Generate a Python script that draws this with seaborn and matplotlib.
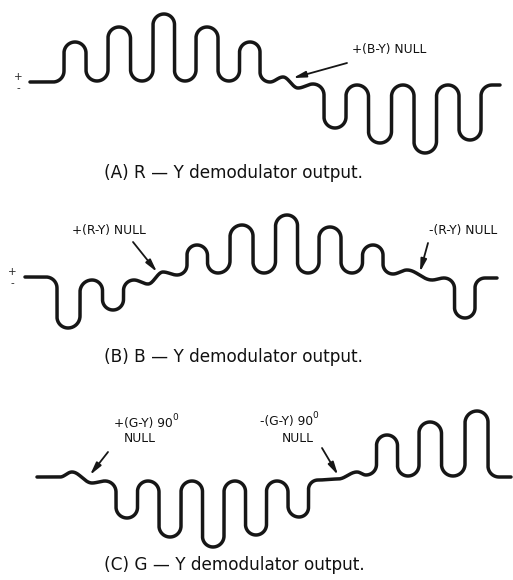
import numpy as np
import pandas as pd
import seaborn as sns
import matplotlib.pyplot as plt

# extremes of each trace (x position, level above baseline)
a_x = [30, 53, 75, 97, 119, 142, 164, 185, 207, 229, 250, 270, 283, 298, 313, 335, 357, 380, 403, 425, 448, 470, 492, 500]
a_v = [0, 0, 40, 1, 55, 1, 68, 1, 55, 1, 40, 0, 5, -6, -2, -46, -3, -61, -3, -71, -3, -58, -3, -3]

b_x = [25, 46, 68, 92, 113, 134, 148, 163, 177, 197, 218, 242, 264, 287, 308, 330, 352, 373, 393, 407, 432, 444, 465, 485, 497]
b_v = [0, 0, -51, -3, -33, -3, -7, 5, 2, 32, 4, 52, 4, 62, 4, 50, 4, 32, 3, 7, -3, -1, -41, -1, -1]

c_x = [37, 60, 72, 92, 105, 127, 148, 170, 192, 213, 235, 256, 277, 299, 318, 338, 357, 366, 387, 408, 430, 453, 477, 499, 511]
c_v = [0, 0, 5, -6, -4, -41, -4, -60, -4, -70, -4, -58, -4, -40, -3, -2, 5, 2, 42, 1, 55, 1, 66, 0, 0]

captions = ["(A) R \u2014 Y demodulator output.",
            "(B) B \u2014 Y demodulator output.",
            "(C) G \u2014 Y demodulator output."]


def wave(xs, vs, n=30):
    # round-topped lobes: half circles joined by vertical strokes,
    # small wiggles drawn as plain half cosines
    px, py = [xs[0]], [vs[0]]
    for i in range(len(xs) - 1):
        x0, x1, y0, y1 = xs[i], xs[i + 1], vs[i], vs[i + 1]
        h = x1 - x0
        d = y1 - y0
        if abs(d) >= h:
            r = h / 2
            s = np.sign(d)
            t = np.linspace(-s * np.pi / 2, 0, n)
            px += list(x0 + r * np.cos(t))
            py += list(y0 + s * r + r * np.sin(t))
            t = np.linspace(np.pi, np.pi - s * np.pi / 2, n)
            px += list(x1 + r * np.cos(t))
            py += list(y1 - s * r + r * np.sin(t))
        else:
            t = np.linspace(0, np.pi, n)[1:]
            px += list(x0 + h * t / np.pi)
            py += list(y0 + d * (1 - np.cos(t)) / 2)
    return pd.DataFrame({"x": px, "y": py})


sns.set_style("white")
plt.rcParams["font.family"] = ["DejaVu Sans"]

W, H = 513, 580
fig = plt.figure(figsize=(W / 100, H / 100), dpi=100)

# (top pixel row, bottom pixel row, baseline pixel row, caption row)
bands = [(0, 190, 82, 173), (190, 385, 277, 357), (385, 580, 477, 565)]
traces = [(a_x, a_v), (b_x, b_v), (c_x, c_v)]
axes = []
for (top, bot, base, cy), (xs, vs), cap in zip(bands, traces, captions):
    ax = fig.add_axes([0, 1 - bot / H, 1, (bot - top) / H])
    df = wave(xs, vs)
    sns.lineplot(data=df, x="x", y="y", sort=False, estimator=None,
                 color="#161616", linewidth=2.5, ax=ax)
    ax.lines[0].set_solid_capstyle("round")
    ax.lines[0].set_solid_joinstyle("round")
    ax.set_xlim(0, W)
    ax.set_ylim(base - bot, base - top)
    ax.axis("off")
    ax.text(234, base - cy, cap, ha="center", va="center",
            fontsize=12.2, color="#111111")
    axes.append(ax)

axA, axB, axC = axes

arrow = dict(arrowstyle="-|>,head_length=0.75,head_width=0.18",
             color="#161616", lw=1.3, shrinkA=0, shrinkB=0)
lab = dict(ha="center", va="center", fontsize=8.8, color="#111111")

# sign marks
for ax, x, yp, ym in [(axA, 18, 5, -6), (axB, 12, 5, -6)]:
    ax.text(x, yp, "+", ha="center", va="center", fontsize=7.5)
    ax.text(x, ym, "-", ha="center", va="center", fontsize=7.5)

axA.annotate("", xy=(293, 4), xytext=(347, 19), arrowprops=arrow)
axA.text(389, 32, "+(B-Y) NULL", **lab)

axB.annotate("", xy=(157, 5), xytext=(133, 35), arrowprops=arrow)
axB.text(109, 47, "+(R-Y) NULL", **lab)
axB.annotate("", xy=(420, 5), xytext=(428, 34), arrowprops=arrow)
axB.text(463, 47, "-(R-Y) NULL", **lab)

axC.annotate("", xy=(90, 2), xytext=(108, 25), arrowprops=arrow)
axC.text(173, 53, "+(G-Y) 90", ha="right", va="center", fontsize=8.8, color="#111111")
axC.text(172, 60, "0", ha="left", va="center", fontsize=6.5, color="#111111")
axC.text(140, 38, "NULL", **lab)
axC.annotate("", xy=(338, 2), xytext=(322, 29), arrowprops=arrow)
axC.text(313, 55, "-(G-Y) 90", ha="right", va="center", fontsize=8.8, color="#111111")
axC.text(312, 62, "0", ha="left", va="center", fontsize=6.5, color="#111111")
axC.text(298, 39, "NULL", **lab)

fig.savefig("out.png", dpi=100)
